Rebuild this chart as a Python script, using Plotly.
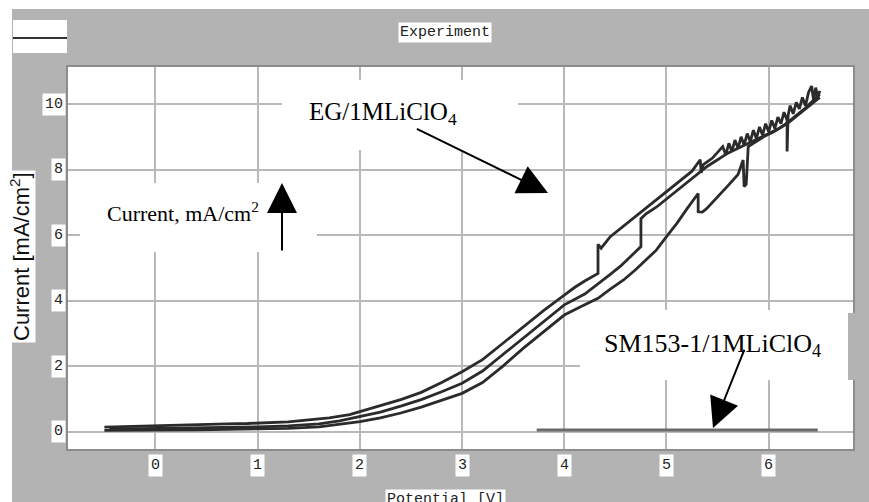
import plotly.graph_objects as go

# ---------------- data ----------------
x_ticks = [0, 1, 2, 3, 4, 5, 6]
y_ticks = [0, 2, 4, 6, 8, 10]

eg_cycle1_x = [-0.5, -0.3, -0.1, 0.1, 0.3, 0.5, 0.7, 0.9, 1.1, 1.3, 1.5, 1.7, 1.9, 2.0, 2.2, 2.4, 2.6,
               2.8, 3.0, 3.2, 3.4, 3.6, 3.8, 4.0, 4.1, 4.2, 4.33, 4.33, 4.36, 4.45, 4.55, 4.65, 4.75,
               4.85, 4.95, 5.05, 5.15, 5.25, 5.33, 5.34, 5.36, 5.45,
               5.55, 5.58, 5.61, 5.64, 5.67, 5.70, 5.73, 5.76, 5.79, 5.82, 5.85, 5.88, 5.91, 5.94,
               5.97, 6.00, 6.03, 6.06, 6.09, 6.12, 6.15, 6.18, 6.18, 6.19, 6.21, 6.24, 6.27, 6.30,
               6.33, 6.36, 6.39, 6.42, 6.44, 6.46, 6.48, 6.5]
eg_cycle1_y = [0.14, 0.16, 0.17, 0.19, 0.2, 0.22, 0.24, 0.25, 0.27, 0.3, 0.36, 0.42, 0.52, 0.61, 0.78,
               0.98, 1.2, 1.5, 1.83, 2.2, 2.7, 3.2, 3.7, 4.17, 4.4, 4.6, 4.83, 5.72, 5.6, 5.95, 6.2,
               6.45, 6.7, 6.95, 7.2, 7.45, 7.7, 7.95, 8.3, 7.9, 8.15, 8.35,
               8.7, 8.45, 8.8, 8.55, 8.9, 8.65, 9.0, 8.75, 9.1, 8.85, 9.2, 8.95, 9.3, 9.05,
               9.4, 9.15, 9.5, 9.25, 9.6, 9.4, 9.75, 9.5, 8.55, 9.65, 9.95, 9.7, 10.05, 9.85,
               10.2, 9.95, 10.35, 10.55, 10.1, 10.5, 10.2, 10.4]

eg_cycle2_x = [-0.45, -0.2, 0.1, 0.4, 0.7, 1.0, 1.3, 1.6, 1.8, 2.0, 2.2, 2.4, 2.6, 2.8, 3.0, 3.2, 3.4,
               3.6, 3.8, 4.0, 4.2, 4.33, 4.45, 4.55, 4.65, 4.75, 4.75, 4.8, 4.9, 5.0, 5.1, 5.2, 5.3,
               5.4, 5.5, 5.6, 5.7, 5.8, 5.9, 6.0, 6.1, 6.2, 6.3, 6.4, 6.5]
eg_cycle2_y = [0.08, 0.09, 0.1, 0.12, 0.13, 0.15, 0.18, 0.24, 0.33, 0.46, 0.6, 0.78, 0.98, 1.22, 1.48,
               1.85, 2.35, 2.85, 3.35, 3.87, 4.2, 4.5, 4.8, 5.05, 5.35, 5.65, 6.5, 6.65, 6.85, 7.1,
               7.35, 7.6, 7.85, 8.1, 8.3, 8.5, 8.65, 8.8, 8.95, 9.1, 9.25, 9.45, 9.7, 9.95, 10.2]

eg_cycle3_x = [-0.5, -0.2, 0.1, 0.4, 0.7, 1.0, 1.3, 1.6, 1.8, 2.0, 2.2, 2.4, 2.6, 2.8, 3.0, 3.2, 3.4,
               3.6, 3.8, 4.0, 4.15, 4.33, 4.45, 4.58, 4.7, 4.8, 4.9, 5.0, 5.1, 5.2, 5.31, 5.31, 5.35,
               5.39, 5.5, 5.6, 5.7, 5.75, 5.76, 5.78, 5.8, 5.85, 5.95, 6.05, 6.15, 6.25, 6.35, 6.45, 6.5]
eg_cycle3_y = [0.04, 0.04, 0.05, 0.06, 0.07, 0.08, 0.1, 0.15, 0.22, 0.31, 0.42, 0.57, 0.75, 0.95, 1.17,
               1.5, 2.0, 2.55, 3.05, 3.56, 3.8, 4.07, 4.35, 4.63, 4.95, 5.25, 5.54, 5.95, 6.35, 6.8,
               7.27, 6.71, 6.7, 6.8, 7.15, 7.5, 7.85, 8.29, 7.48, 7.55, 8.7, 8.8, 9.0, 9.15, 9.35, 9.6,
               9.85, 10.15, 10.3]

sm_x = [3.73, 4.5, 5.5, 6.48]
sm_y = [0.05, 0.05, 0.05, 0.05]

# ---------------- figure ----------------
W, H = 869, 502
ML, MR, MT, MB = 68, 16, 67, 53
PW, PH = W - ML - MR, H - MT - MB


def px(x):  # window pixel -> paper x
    return (x - ML) / PW


def py(y):  # window pixel -> paper y
    return (H - MB - y) / PH


MONO = "Liberation Mono, DejaVu Sans Mono, monospace"
SERIF = "Liberation Serif, Times New Roman, serif"
SANS = "Liberation Sans, Arial, sans-serif"
CURVE = "#2b2b2b"
GRAYBG = "#b3b3b3"

fig = go.Figure()
for xs, ys in [(eg_cycle1_x, eg_cycle1_y), (eg_cycle2_x, eg_cycle2_y), (eg_cycle3_x, eg_cycle3_y)]:
    fig.add_trace(go.Scatter(x=xs, y=ys, mode="lines", line=dict(color=CURVE, width=2.8),
                             showlegend=False, hoverinfo="skip"))
fig.add_trace(go.Scatter(x=sm_x, y=sm_y, mode="lines", line=dict(color="#6a6a6a", width=3),
                         showlegend=False, hoverinfo="skip"))

shapes = [
    # thin white strips at left / top of the window
    dict(type="rect", xref="paper", yref="paper", x0=px(-5), x1=px(12), y0=py(510), y1=py(-5),
         fillcolor="white", line_width=0, layer="above"),
    dict(type="rect", xref="paper", yref="paper", x0=px(-5), x1=px(880), y0=py(9), y1=py(-5),
         fillcolor="white", line_width=0, layer="above"),
    # legend box top-left
    dict(type="rect", xref="paper", yref="paper", x0=px(13), x1=px(67), y0=py(53), y1=py(20),
         fillcolor="white", line_width=0, layer="above"),
    dict(type="line", xref="paper", yref="paper", x0=px(13), x1=px(67), y0=py(38), y1=py(38),
         line=dict(color="#333333", width=2), layer="above"),
    # white boxes behind the annotation labels (cover gridlines)
    dict(type="rect", xref="x", yref="y", x0=1.238, x1=3.547, y0=8.596, y1=10.73,
         fillcolor="white", line_width=0, layer="between"),
    dict(type="rect", xref="x", yref="y", x0=-0.739, x1=1.58, y0=5.483, y1=7.589,
         fillcolor="white", line_width=0, layer="between"),
    dict(type="rect", xref="x", yref="y", x0=4.154, x1=6.795, y0=1.578, y1=3.714,
         fillcolor="white", line_width=0, layer="between"),
    # small gray patch on right frame
    dict(type="rect", xref="paper", yref="paper", x0=px(848), x1=px(857), y0=py(380), y1=py(313),
         fillcolor=GRAYBG, line_width=0, layer="above"),
]

annotations = []
# tick labels with white boxes
for t in y_ticks:
    annotations.append(dict(x=0, xref="paper", xanchor="right", xshift=-2, y=t, yref="y",
                            yanchor="middle", text=str(t), showarrow=False, bgcolor="white",
                            borderpad=2, font=dict(family=MONO, size=15, color="#222")))
for t in x_ticks:
    annotations.append(dict(x=t, xref="x", xanchor="center", y=py(465), yref="paper",
                            yanchor="middle", text=str(t), showarrow=False, bgcolor="white",
                            borderpad=2, font=dict(family=MONO, size=15, color="#222")))
# titles
annotations += [
    dict(x=px(445), xref="paper", xanchor="center", y=py(32), yref="paper", yanchor="middle",
         text="Experiment", showarrow=False, bgcolor="white", borderpad=1,
         font=dict(family=MONO, size=15, color="#222")),
    dict(x=px(445), xref="paper", xanchor="center", y=py(499), yref="paper", yanchor="middle",
         text="Potential [V]", showarrow=False, bgcolor="white", borderpad=1,
         font=dict(family=MONO, size=15, color="#222")),
    dict(x=px(20), xref="paper", xanchor="center", y=py(257), yref="paper", yanchor="middle",
         text="Current [mA/cm<sup>2</sup>]", textangle=-90, showarrow=False, bgcolor="white",
         borderpad=1, font=dict(family=SANS, size=22, color="#111")),
    # labels
    dict(x=2.226, y=9.725, xref="x", yref="y", text="EG/1MLiClO<sub>4</sub>", showarrow=False,
         font=dict(family=SERIF, size=25, color="black")),
    dict(x=0.269, y=6.703, xref="x", yref="y", text="Current, mA/cm<sup>2</sup>", showarrow=False,
         font=dict(family=SERIF, size=22, color="black")),
    dict(x=5.455, y=2.644, xref="x", yref="y", text="SM153-1/1MLiClO<sub>4</sub>", showarrow=False,
         font=dict(family=SERIF, size=26, color="black")),
    # arrows
    dict(x=3.841, y=7.284, ax=2.543, ay=9.264, xref="x", yref="y", axref="x", ayref="y", text="",
         showarrow=True, arrowhead=2, arrowsize=3, arrowwidth=2, arrowcolor="black"),
    dict(x=1.238, y=7.589, ax=1.238, ay=5.483, xref="x", yref="y", axref="x", ayref="y", text="",
         showarrow=True, arrowhead=2, arrowsize=3, arrowwidth=2, arrowcolor="black"),
    dict(x=5.455, y=0.113, ax=5.768, ay=2.553, xref="x", yref="y", axref="x", ayref="y", text="",
         showarrow=True, arrowhead=2, arrowsize=3, arrowwidth=2, arrowcolor="black"),
]

fig.update_layout(
    width=W, height=H,
    margin=dict(l=ML, r=MR, t=MT, b=MB, pad=0),
    paper_bgcolor=GRAYBG, plot_bgcolor="white",
    shapes=shapes, annotations=annotations, showlegend=False,
)
fig.update_xaxes(range=[-0.856, 6.825], tickvals=x_ticks, showticklabels=False, ticks="",
                 showgrid=True, gridcolor="#b8b8b8", gridwidth=2, zeroline=False,
                 showline=True, linecolor="#8c8c8c", linewidth=2, mirror=True)
fig.update_yaxes(range=[-0.528, 11.129], tickvals=y_ticks, showticklabels=False, ticks="",
                 showgrid=True, gridcolor="#b8b8b8", gridwidth=2, zeroline=False,
                 showline=True, linecolor="#8c8c8c", linewidth=2, mirror=True)

fig.write_html("out.html", config={"displayModeBar": False},
               post_script="document.body.style.margin='0';document.body.style.overflow='hidden';")
